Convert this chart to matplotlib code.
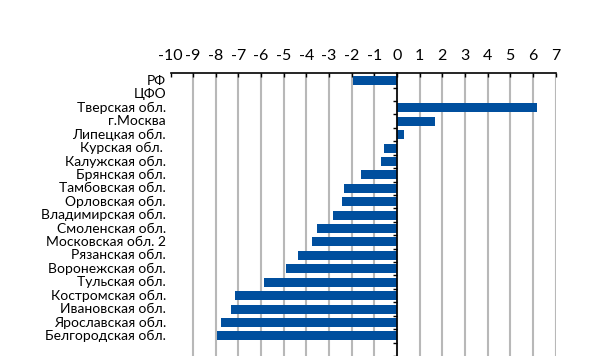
import matplotlib
matplotlib.use('Agg')
import matplotlib.pyplot as plt
import matplotlib.transforms as mtransforms
import numpy as np

plt.rcParams['font.family'] = ['Lato', 'DejaVu Sans']

regions = ['РФ', 'ЦФО', 'Тверская обл.', 'г.Москва', 'Липецкая обл.',
           'Курская обл. ', 'Калужская обл.', 'Брянская обл.',
           'Тамбовская обл.', 'Орловская обл.', 'Владимирская обл.',
           'Смоленская обл.', 'Московская обл. 2', 'Рязанская обл.',
           'Воронежская обл.', 'Тульская обл.', 'Костромская обл.',
           'Ивановская обл.', 'Ярославская обл.', 'Белгородская обл.']
values = [-1.95, 0.0, 6.17, 1.66, 0.3, -0.58, -0.7, -1.58, -2.32, -2.42,
          -2.83, -3.55, -3.73, -4.39, -4.92, -5.88, -7.13, -7.31, -7.78,
          -7.96]
xticks = list(range(-10, 8))


def main():
    W, H = 607, 356
    fig = plt.figure(figsize=(W / 100, H / 100), dpi=100)
    left, right, top = 170.5 / W, 555.5 / W, 73.3 / H
    ax = fig.add_axes([left, 0, right - left, 1 - top])

    y = np.arange(len(regions))
    ax.barh(y, values, height=0.67, color='#004f9e', zorder=3)

    ax.set_xlim(-10, 7)
    ax.set_ylim(19.65, -0.57)

    ax.set_xticks(xticks)
    ax.set_xticklabels([str(t) for t in xticks])
    ax.xaxis.tick_top()
    ax.tick_params(axis='x', direction='in', length=3, width=1,
                   pad=7.5, labelsize=11.5, colors='black')
    for t in xticks[1:]:
        ax.axvline(t, color='#b8b8b8', lw=1.5, zorder=1)

    for s in ['bottom', 'right']:
        ax.spines[s].set_visible(False)
    ax.spines['top'].set_linewidth(1.2)
    ax.spines['left'].set_position(('data', 0))
    ax.spines['left'].set_linewidth(1.2)
    ax.spines['left'].set_zorder(4)

    ax.set_yticks(np.arange(len(regions) + 1) + 0.5)
    ax.set_yticklabels([])
    ax.tick_params(axis='y', direction='out', length=3, width=1)

    trans = mtransforms.blended_transform_factory(ax.transAxes, ax.transData)
    for i, name in enumerate(regions):
        ax.text(-0.012, i, name, transform=trans, ha='right', va='center',
                fontsize=10, color='black')

    fig.savefig('out.png', dpi=100)


if __name__ == '__main__':
    main()
